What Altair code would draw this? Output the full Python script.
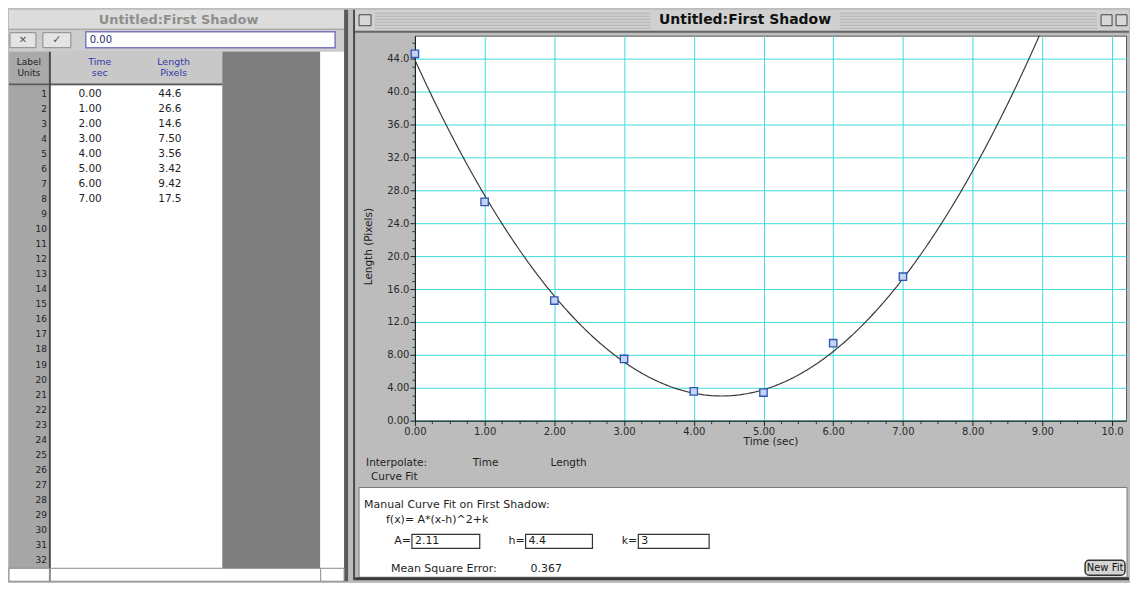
import altair as alt
import pandas as pd

# ---------------- values ----------------
TIME = [0.00, 1.00, 2.00, 3.00, 4.00, 5.00, 6.00, 7.00]
LENGTH = [44.6, 26.6, 14.6, 7.50, 3.56, 3.42, 9.42, 17.5]
ROW_LABELS = list(range(1, 33))
X_TICKS = [0, 1, 2, 3, 4, 5, 6, 7, 8, 9, 10]
Y_TICKS = [0, 4, 8, 12, 16, 20, 24, 28, 32, 36, 40, 44]
A_FIT = 2.11
H_FIT = 4.4
K_FIT = 3
MSE = 0.367
WINDOW_TITLE = "Untitled:First Shadow"

FONT = "DejaVu Sans"
BG = "#bcbcbc"
GRID = "#3fdcdc"
TXT = "#1e1e1e"

pts = pd.DataFrame({"time": TIME, "length": LENGTH})
rows = pd.DataFrame({"row": ROW_LABELS})
table = pd.DataFrame({"row": ROW_LABELS[:len(TIME)], "time": TIME, "length": LENGTH})
ONE = pd.DataFrame({"k": [0]})


def rect(x, x2, y, y2, fill, stroke=None, sw=1.0, r=0):
    kw = dict(fill=fill)
    if stroke:
        kw.update(stroke=stroke, strokeWidth=sw)
    if r:
        kw["cornerRadius"] = r
    return alt.Chart(ONE).mark_rect(**kw).encode(
        x=alt.value(x), x2=alt.value(x2), y=alt.value(y), y2=alt.value(y2))


def label(txt, x, y, size=10, color=TXT, align="left", weight="normal"):
    return alt.Chart(ONE).mark_text(
        text=txt, align=align, baseline="middle", font=FONT, fontSize=size,
        color=color, fontWeight=weight).encode(x=alt.value(x), y=alt.value(y))


# ---------------- left window: the data table ----------------
# the left view's origin lines up with the graph's origin, 26px below the top
O = -26
row_scale = alt.Scale(domain=[1, 32], range=[84 + O, 552 + O], nice=False, zero=False)

left_layers = [
    rect(0, 340, 0 + O, 20 + O, "#dcdcdc"),
    rect(0, 340, 19 + O, 20 + O, "#8a8a8a"),
    label(WINDOW_TITLE, 170, 10 + O, 13, "#8e8e8e", "center", "bold"),
    rect(0, 340, 20 + O, 42 + O, "#cdcdcd"),
    rect(1, 27, 23 + O, 38 + O, "#e4e4e4", "#8a8a8a"),
    label("✕", 14, 30.5 + O, 10, "#555", "center"),
    rect(34, 62, 23 + O, 38 + O, "#e4e4e4", "#8a8a8a"),
    label("✓", 48, 30.5 + O, 11, "#555", "center"),
    rect(77, 327, 22 + O, 38 + O, "white", "#7a7ac0", 1.5),
    label("0.00", 81, 30 + O, 10, "#2a2a6a"),
    rect(0, 41, 42 + O, 75 + O, "#a9a9a9"),
    rect(41, 214, 42 + O, 75 + O, "#c8c8c8"),
    label("Label", 20, 52 + O, 9, "#222", "center"),
    label("Units", 20, 63 + O, 9, "#222", "center"),
    label("Time", 91, 52 + O, 9.5, "#3838a8", "center"),
    label("sec", 91, 63 + O, 9.5, "#3838a8", "center"),
    label("Length", 165, 52 + O, 9.5, "#3838a8", "center"),
    label("Pixels", 165, 63 + O, 9.5, "#3838a8", "center"),
    rect(0, 214, 74 + O, 76 + O, "#5a5a5a"),
    rect(0, 40, 76 + O, 560 + O, "#a6a6a6"),
    rect(40, 42, 42 + O, 560 + O, "#4a4a4a"),
    rect(42, 214, 76 + O, 560 + O, "white"),
    rect(214, 312, 42 + O, 560 + O, "#7e7e7e"),
    rect(312, 336, 42 + O, 560 + O, "white"),
    rect(336, 340, 0 + O, 573 + O, "#5a5a5a"),
    rect(0, 336, 560 + O, 573 + O, "white", "#8a8a8a"),
    rect(40, 42, 560 + O, 573 + O, "#8a8a8a"),
    rect(312, 313, 560 + O, 573 + O, "#8a8a8a"),
    alt.Chart(rows).mark_text(align="right", baseline="middle", font=FONT,
                              fontSize=9, color=TXT).encode(
        x=alt.value(38),
        y=alt.Y("row:Q", scale=row_scale, axis=None),
        text=alt.Text("row:Q")),
    alt.Chart(table).mark_text(align="right", baseline="middle", font=FONT,
                               fontSize=10.5, color=TXT).encode(
        x=alt.value(93),
        y=alt.Y("row:Q", scale=row_scale, axis=None),
        text=alt.Text("time:Q", format=".2f")),
    alt.Chart(table).mark_text(align="right", baseline="middle", font=FONT,
                               fontSize=10.5, color=TXT).encode(
        x=alt.value(173),
        y=alt.Y("row:Q", scale=row_scale, axis=None),
        text=alt.Text("length:Q", format=".3r")),
]
left = alt.layer(*left_layers).properties(width=340, height=573 + O)

# ---------------- right window: the graph ----------------
W, H = 713, 386
xs = alt.Scale(domain=[0, 10.2], nice=False, zero=False)
ys = alt.Scale(domain=[0, 46.8], nice=False, zero=False)
LBL = "datum.value == 0 ? '0.00' : format(datum.value, '.3r')"

x_axis = alt.Axis(values=X_TICKS, labelExpr=LBL, title="Time (sec)", orient="bottom",
                  grid=True, gridColor=GRID, gridWidth=1, gridOpacity=1,
                  domainColor="#111", tickColor="#222", tickSize=5,
                  labelFont=FONT, labelFontSize=10, labelColor="#2a2a2a",
                  labelPadding=1, labelFlush=False,
                  titleFont=FONT, titleFontSize=10.5, titleFontWeight="normal",
                  titleColor="#222", titlePadding=0)
y_axis = alt.Axis(values=Y_TICKS, labelExpr=LBL, title="Length (Pixels)", orient="left",
                  grid=True, gridColor=GRID, gridWidth=1, gridOpacity=1,
                  domainColor="#111", tickColor="#222", tickSize=5,
                  labelFont=FONT, labelFontSize=10, labelColor="#2a2a2a",
                  labelPadding=1, labelFlush=False,
                  titleFont=FONT, titleFontSize=10.5, titleFontWeight="normal",
                  titleColor="#222", titleX=-47, titleY=211, titleAngle=270,
                  titleAlign="center", titleBaseline="middle")
x_minor = alt.Axis(values=[i * 0.25 for i in range(41) if i % 4], orient="bottom",
                   labels=False, title="", grid=False, domain=False,
                   tickSize=3, tickColor="#333")
y_minor = alt.Axis(values=[i for i in range(47) if i % 4], orient="left",
                   labels=False, title="", grid=False, domain=False,
                   tickSize=3, tickColor="#333")

curve = alt.Chart(alt.sequence(0, 10.21, 0.02, as_="t")).transform_calculate(
    L=f"{A_FIT} * pow(datum.t - {H_FIT}, 2) + {K_FIT}"
).mark_line(color="#3c3c3c", strokeWidth=1.2, clip=True).encode(
    x=alt.X("t:Q", scale=xs, axis=None),
    y=alt.Y("L:Q", scale=ys, axis=None))

points = alt.Chart(pts).mark_point(
    shape="square", size=55, fill="#c6d3f3", stroke="#2e56b4",
    strokeWidth=1.3, opacity=1, fillOpacity=1).encode(
    x=alt.X("time:Q", scale=xs, axis=x_axis),
    y=alt.Y("length:Q", scale=ys, axis=y_axis))

minor = alt.Chart(pts).mark_point(opacity=0).encode(
    x=alt.X("time:Q", scale=xs, axis=x_minor),
    y=alt.Y("length:Q", scale=ys, axis=y_minor))

deco = [
    rect(-62, -60, -26, 546, "#4a4a4a"),
    rect(-60, 716, -26, -5, "#d0d0d0"),
]
for sy in [-23, -20, -17, -14, -11, -8]:
    deco.append(rect(-40, 684, sy, sy + 1, "#b2b2b2"))
deco += [
    rect(236, 426, -25, -6, "#d0d0d0"),
    label(WINDOW_TITLE, 331, -15.5, 14, "#111", "center", "bold"),
    rect(-60, 716, -5, -3, "#666666"),
    rect(-56, -44, -21, -10, "#d8d8d8", "#444"),
    rect(688, 699, -21, -10, "#d8d8d8", "#444"),
    rect(703, 714, -21, -10, "#d8d8d8", "#444"),
    label("Interpolate:", -49, 428, 10.5),
    label("Time", 58, 428, 10.5),
    label("Length", 136, 428, 10.5),
    label("Curve Fit", -44, 442, 10.5),
    rect(-56, 714, 453, 543, "white", "#7a7a7a"),
    rect(-60, 716, 543, 546, "#3a3a3a"),
    label("Manual Curve Fit on First Shadow:", -51, 471, 11),
    label("f(x)= A*(x-h)^2+k", -29, 486, 11),
    label("A=", -4, 507, 11, TXT, "right"),
    rect(-3, 65, 500, 514, "white", "#333", 1.2),
    label(f"{A_FIT:g}", 0, 507, 11),
    label("h=", 110, 507, 11, TXT, "right"),
    rect(111, 178, 500, 514, "white", "#333", 1.2),
    label(f"{H_FIT:g}", 114, 507, 11),
    label("k=", 223, 507, 11, TXT, "right"),
    rect(224, 295, 500, 514, "white", "#333", 1.2),
    label(f"{K_FIT:g}", 227, 507, 11),
    label("Mean Square Error:", -24, 535, 11),
    label(f"{MSE:g}", 116, 535, 11),
    rect(672, 712, 526, 541, "#d4d4d4", "#333", 1.5, 4),
    label("New Fit", 692, 533.5, 10, "#111", "center"),
]

right = alt.layer(*deco, curve, points, minor).resolve_axis(
    x="independent", y="independent"
).properties(width=W, height=H,
             view=alt.ViewBackground(fill="white", stroke="#5a5a5a", strokeWidth=1))

chart = alt.hconcat(left, right, spacing=4).properties(
    background=BG, padding=0
).configure_view(stroke=None)

chart.save("out.html", embed_options={"renderer": "svg", "actions": False})
